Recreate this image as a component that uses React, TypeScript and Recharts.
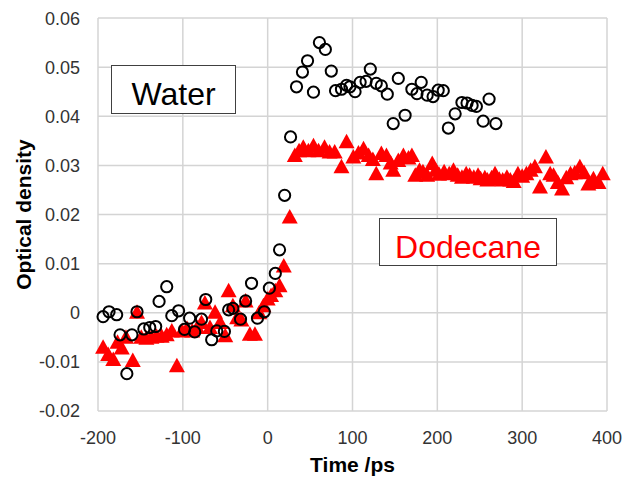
import React from "react";
import {
  ScatterChart,
  Scatter,
  XAxis,
  YAxis,
  CartesianGrid,
} from "recharts";

// time axis (ps) and optical density
const waterTime = [
  -194, -187, -178, -174, -166, -160, -154, -146, -139, -132, -128, -119, -113,
  -105, -98, -92, -86, -78, -73, -66, -60, -51, -46, -41, -32, -26, -19, -12, -4,
  2, 9, 14, 20, 27, 34, 41, 47, 54, 61, 68, 75, 80, 87, 93, 97, 103, 109, 116,
  121, 128, 134, 141, 148, 154, 162, 170, 176, 181, 188, 195, 201, 207, 213, 221,
  229, 235, 241, 246, 254, 261, 269,
];
const waterOD = [
  -0.0008, 0.0002, -0.0004, -0.0045, -0.0124, -0.0045, 0.0002, -0.0033, -0.003,
  -0.0028, 0.0023, 0.0053, -0.0006, 0.0004, -0.0034, -0.0011, -0.0039, -0.0013,
  0.0027, -0.0055, -0.0037, -0.0038, 0.0006, 0.0009, -0.0013, 0.0024, 0.006,
  -0.0011, 0.0002, 0.005, 0.008, 0.0128, 0.0239, 0.0358, 0.046, 0.049, 0.0513,
  0.0449, 0.055, 0.0536, 0.0492, 0.0452, 0.0455, 0.0463, 0.046, 0.045, 0.0469,
  0.0471, 0.0496, 0.0467, 0.0462, 0.0445, 0.0385, 0.0477, 0.0402, 0.0455,
  0.0446, 0.0469, 0.0443, 0.044, 0.0453, 0.0452, 0.0376, 0.0405, 0.0428, 0.0427,
  0.0422, 0.042, 0.039, 0.0435, 0.0385,
];

const dodecaneTime = [
  -194, -188, -182, -177, -172, -167, -159, -154, -149, -143, -137, -131, -125,
  -119, -113, -107, -101, -95, -89, -83, -78, -74, -68, -62, -56, -50, -46, -41,
  -36, -31, -26, -21, -15, -10, -5, 0, 4, 9, 14, 19, 26, 32, 37, 42, 48, 54, 60,
  67, 73, 79, 87, 93, 101, 107, 113, 119, 124, 128, 134, 140, 145, 148, 154, 160,
  166, 170, 174, 179, 183, 188, 194, 198, 202, 208, 214, 219, 224, 229, 234, 238,
  243, 248, 251, 256, 259, 264, 268, 273, 277, 282, 286, 290, 295, 300, 305, 310,
  315, 321, 328, 333, 337, 342, 347, 352, 357, 362, 368, 373, 378, 384, 390, 395,
];
const dodecaneOD = [
  -0.007, -0.0085, -0.0095, -0.006, -0.0072, -0.005, -0.0097, 0.0001, -0.005,
  -0.0052, -0.005, -0.0048, -0.0048, -0.0045, -0.0037, -0.0108, -0.0037,
  -0.0032, -0.0037, -0.003, -0.002, 0.002, -0.003, 0.0001, -0.002, -0.0047,
  0.0045, 0.0014, -0.001, -0.0015, 0.0024, -0.0044, -0.0044, 0.0, 0.0014,
  0.0028, 0.0035, 0.0045, 0.0055, 0.0095, 0.0195, 0.032, 0.033, 0.0337, 0.033,
  0.034, 0.033, 0.0337, 0.0327, 0.0327, 0.0297, 0.0348, 0.0317, 0.0325, 0.0334,
  0.032, 0.0312, 0.0283, 0.0324, 0.032, 0.0305, 0.029, 0.031, 0.032, 0.0315,
  0.032, 0.028, 0.029, 0.0287, 0.028, 0.0304, 0.029, 0.0282, 0.0287, 0.0283,
  0.029, 0.028, 0.0276, 0.0283, 0.028, 0.0276, 0.028, 0.0273, 0.0275, 0.027,
  0.0275, 0.0283, 0.0272, 0.027, 0.0276, 0.027, 0.0267, 0.0283, 0.0278, 0.0283,
  0.029, 0.0297, 0.0256, 0.0317, 0.0283, 0.028, 0.0265, 0.0252, 0.0275, 0.0283,
  0.0285, 0.0297, 0.0285, 0.0262, 0.0273, 0.0265, 0.0283,
];

const timeTicks = [-200, -100, 0, 100, 200, 300, 400];
const odTicks = [-0.02, -0.01, 0, 0.01, 0.02, 0.03, 0.04, 0.05, 0.06];

const water = waterTime.map((t, i) => ({ t, od: waterOD[i] }));
const dodecane = dodecaneTime.map((t, i) => ({ t, od: dodecaneOD[i] }));

const FONT = "'Liberation Sans', Arial, sans-serif";

function OpenCircle(props: any) {
  const { cx, cy } = props;
  return <circle cx={cx} cy={cy} r={5.6} fill="none" stroke="#000" strokeWidth={2} />;
}

function RedTriangle(props: any) {
  const { cx, cy } = props;
  return (
    <polygon
      points={`${cx},${cy - 8} ${cx - 8},${cy + 6.5} ${cx + 8},${cy + 6.5}`}
      fill="#ff0000"
    />
  );
}

function NoteBox({ left, top, width, height, text, color }: any) {
  return (
    <div
      style={{
        position: "absolute",
        left,
        top,
        width,
        height,
        boxSizing: "border-box",
        border: "1.5px solid #404040",
        background: "#fff",
      }}
    >
      <div
        style={{
          position: "absolute",
          left: 0,
          right: 0,
          top: 12,
          textAlign: "center",
          fontFamily: FONT,
          fontSize: 32,
          lineHeight: "32px",
          color,
        }}
      >
        {text}
      </div>
    </div>
  );
}

export default function App() {
  return (
    <div style={{ position: "relative", width: 627, height: 471 }}>
      <ScatterChart
        width={627}
        height={471}
        margin={{ top: 10, right: 28, left: 0, bottom: 0 }}
      >
        <CartesianGrid stroke="#d4d4d4" strokeWidth={1.5} />
        <XAxis
          type="number"
          dataKey="t"
          domain={[-200, 400]}
          ticks={timeTicks}
          height={68}
          axisLine={false}
          tickLine={false}
          tickSize={0}
          tickMargin={20}
          tick={{ fill: "#333", fontSize: 18, fontFamily: FONT }}
          label={{
            value: "Time /ps",
            position: "insideBottom",
            offset: 7,
            style: { fontFamily: FONT, fontSize: 21, fontWeight: 700, fill: "#000" },
          }}
        />
        <YAxis
          type="number"
          dataKey="od"
          domain={[-0.02, 0.06]}
          ticks={odTicks}
          width={90}
          axisLine={false}
          tickLine={false}
          tickSize={0}
          tickMargin={18}
          tick={{ fill: "#333", fontSize: 18, fontFamily: FONT }}
          label={{
            value: "Optical density",
            angle: -90,
            position: "insideLeft",
            offset: 16,
            style: {
              textAnchor: "middle",
              fontFamily: FONT,
              fontSize: 21,
              fontWeight: 700,
              fill: "#000",
            },
          }}
        />
        <Scatter
          name="Dodecane"
          data={dodecane}
          shape={RedTriangle}
          isAnimationActive={false}
        />
        <Scatter
          name="Water"
          data={water}
          shape={OpenCircle}
          isAnimationActive={false}
        />
      </ScatterChart>
      <NoteBox left={103} top={57} width={125} height={49} text="Water" color="#000" />
      <NoteBox left={371} top={210} width={178} height={48} text="Dodecane" color="#ff0000" />
    </div>
  );
}
